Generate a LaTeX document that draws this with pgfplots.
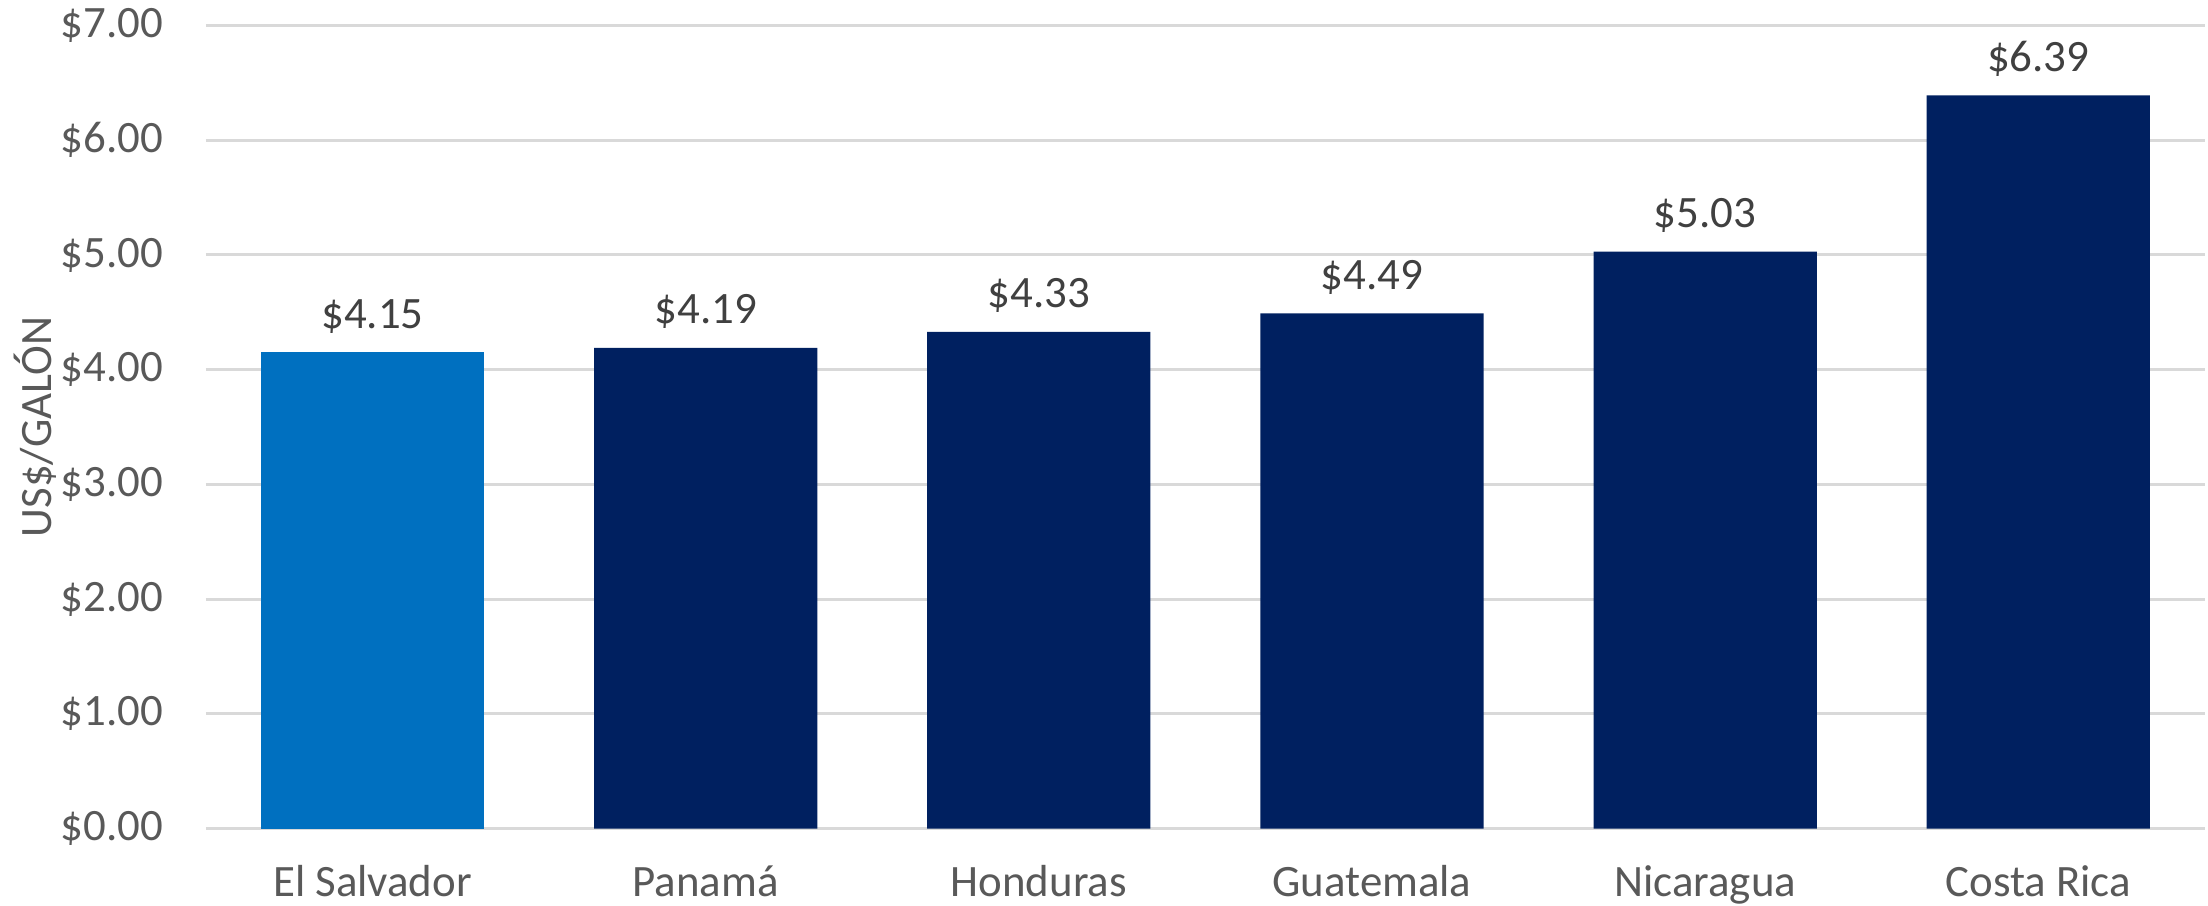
\documentclass[border=0pt]{standalone}
\usepackage{pgfplots}
\pgfplotsset{compat=1.18}
\usepackage{fontspec}
\setmainfont{Carlito}
\definecolor{lightb}{HTML}{0070C0}
\definecolor{navy}{HTML}{002060}
\definecolor{gridg}{HTML}{D9D9D9}
\definecolor{tickg}{HTML}{595959}
\definecolor{labg}{HTML}{404040}
\begin{document}
\begin{tikzpicture}
\begin{axis}[
  scale only axis,
  width=454.3pt, height=182.5pt,
  xmin=-0.5, xmax=5.5, ymin=0, ymax=7,
  xtick={0,1,2,3,4,5},
  xticklabels={El Salvador,Panamá,Honduras,Guatemala,Nicaragua,Costa Rica},
  ytick={0,1,2,3,4,5,6,7},
  yticklabels={\$0.00,\$1.00,\$2.00,\$3.00,\$4.00,\$5.00,\$6.00,\$7.00},
  major tick length=0pt,
  axis line style={draw=none},
  ymajorgrids,
  grid style={gridg, line width=0.7pt},
  font=\fontsize{10.2}{12}\selectfont,
  tick label style={text=tickg, font=\fontsize{10.2}{12}\selectfont},
  yticklabel style={anchor=east, inner sep=0pt, xshift=-9.5pt},
  xticklabel style={anchor=base, inner sep=0pt, yshift=-15.5pt},
  ylabel={US\$/GALÓN},
  ylabel style={at={(axis description cs:-0.0854,0.5)}, anchor=center, text=tickg},
  /pgf/number format/assume math mode=true,
  nodes near coords={\$\pgfmathprintnumber[fixed,fixed zerofill,precision=2]{\pgfplotspointmeta}},
  nodes near coords style={anchor=base, yshift=5.5pt, text=labg, inner sep=0pt, font=\fontsize{10.2}{12}\selectfont},
  clip=false,
]
\addplot[ybar, bar width=0.67, bar shift=0pt, fill=lightb, draw=none] coordinates {(0,4.15)};
\addplot[ybar, bar width=0.67, bar shift=0pt, fill=navy, draw=none] coordinates {(1,4.19) (2,4.33) (3,4.49) (4,5.03) (5,6.39)};
\end{axis}
\pgfresetboundingbox
\useasboundingbox (current axis.south west) ++(-46.8pt,-17.5pt) rectangle ++(501.8pt,205.8pt);
\end{tikzpicture}
\end{document}
